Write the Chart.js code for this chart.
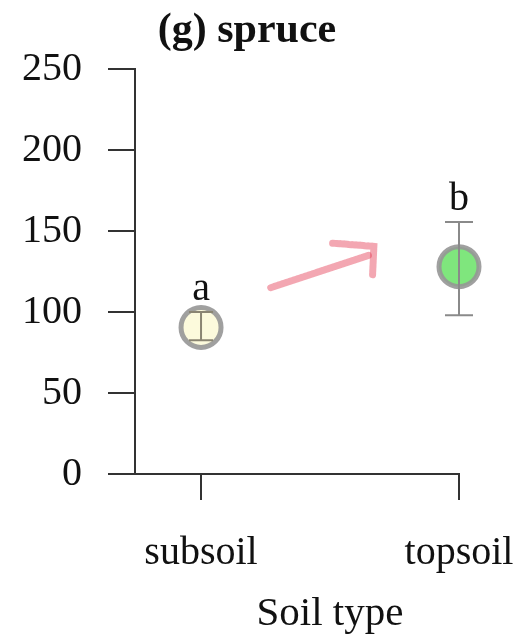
<!DOCTYPE html>
<html>
<head>
<meta charset="utf-8">
<script src="https://cdn.jsdelivr.net/npm/chart.js@4.4.0/dist/chart.umd.min.js"></script>
<style>
  html, body { margin: 0; padding: 0; background: #fff; }
  #wrap { width: 520px; height: 643px; position: relative; }
</style>
</head>
<body>
<div id="wrap"><canvas id="chart" width="520" height="643"></canvas></div>
<script>
// data
const categories = ['subsoil', 'topsoil'];
const means = [90.5, 128];
const errLow = [82.5, 98];
const errHigh = [100, 155.5];
const sigLetters = ['a', 'b'];
const yTicks = [0, 50, 100, 150, 200, 250];

// hand-drawn arrow annotation, in data units
const arrowShaftX = [1.27, 1.65];
const arrowShaftY = [115, 135];
const arrowHeadX = [1.51, 1.67, 1.665];
const arrowHeadY = [142.5, 140.5, 123];

const SERIF = "'Liberation Serif', 'Times New Roman', serif";
const AXIS = '#333';

const pointFill = ['#fcfadc', '#7fe67d'];

// error bars + significance letters
const errorBars = {
  id: 'errorBars',
  afterDatasetsDraw(chart) {
    const ctx = chart.ctx;
    const xs = chart.scales.x, ys = chart.scales.y;
    ctx.save();
    categories.forEach(function (c, i) {
      const px = xs.getPixelForValue(i + 1);
      const lo = ys.getPixelForValue(errLow[i]);
      const hi = ys.getPixelForValue(errHigh[i]);
      const cap = i === 0 ? 12 : 14;
      ctx.strokeStyle = i === 0 ? '#8a8572' : '#8a8a8a';
      ctx.lineWidth = 2;
      ctx.beginPath();
      ctx.moveTo(px, lo); ctx.lineTo(px, hi);
      ctx.moveTo(px - cap, lo); ctx.lineTo(px + cap, lo);
      ctx.moveTo(px - cap, hi); ctx.lineTo(px + cap, hi);
      ctx.stroke();

      ctx.fillStyle = '#111';
      ctx.font = '40px ' + SERIF;
      ctx.textAlign = 'center';
      ctx.textBaseline = 'alphabetic';
      ctx.fillText(sigLetters[i], px, hi - 12);
    });
    ctx.restore();
  }
};

// panel title and x axis title (the axis title sits off-centre in the original)
const titles = {
  id: 'titles',
  afterDraw(chart) {
    const ctx = chart.ctx;
    ctx.save();
    ctx.fillStyle = '#111';
    ctx.textAlign = 'center';
    ctx.textBaseline = 'alphabetic';
    ctx.font = 'bold 42px ' + SERIF;
    ctx.fillText('(g) spruce', 247, 42);
    ctx.font = '41px ' + SERIF;
    ctx.fillText('Soil type', 330, 625);
    ctx.restore();
  }
};

// sketchy red pen stroke
const arrowStyle = {
  type: 'line',
  borderColor: 'rgba(228, 60, 85, 0.45)',
  borderWidth: 7,
  borderDash: [3, 1],
  borderCapStyle: 'round',
  pointRadius: 0,
  fill: false,
  tension: 0,
  clip: false
};

new Chart(document.getElementById('chart'), {
  type: 'scatter',
  data: {
    datasets: [
      Object.assign({
        data: arrowShaftX.map(function (x, i) { return { x: x, y: arrowShaftY[i] }; })
      }, arrowStyle),
      Object.assign({
        data: arrowHeadX.map(function (x, i) { return { x: x, y: arrowHeadY[i] }; })
      }, arrowStyle),
      {
        data: means.map(function (m, i) { return { x: i + 1, y: m }; }),
        backgroundColor: pointFill,
        borderColor: 'rgba(150, 150, 150, 0.9)',
        borderWidth: 5,
        pointRadius: 20,
        clip: false
      }
    ]
  },
  options: {
    responsive: false,
    animation: false,
    events: [],
    devicePixelRatio: 1,
    layout: { padding: { top: 69, left: 0, right: 61, bottom: 0 } },
    plugins: {
      legend: { display: false },
      tooltip: { enabled: false }
    },
    scales: {
      x: {
        type: 'linear',
        min: 0.744,
        max: 2,
        afterBuildTicks: function (s) { s.ticks = categories.map(function (c, i) { return { value: i + 1 }; }); },
        afterFit: function (s) { s.height = 169; s.paddingLeft = 0; s.paddingRight = 0; },
        border: { color: AXIS, width: 2 },
        grid: { drawOnChartArea: false, tickLength: 26, color: AXIS, lineWidth: 2 },
        ticks: {
          color: '#111',
          font: { family: SERIF, size: 40 },
          padding: 29,
          maxRotation: 0,
          autoSkip: false,
          callback: function (v) { return categories[v - 1]; }
        }
      },
      y: {
        min: 0,
        max: 250,
        afterBuildTicks: function (s) { s.ticks = yTicks.map(function (v) { return { value: v }; }); },
        afterFit: function (s) { s.width = 135; },
        border: { color: AXIS, width: 2 },
        grid: { drawOnChartArea: false, tickLength: 27, color: AXIS, lineWidth: 2 },
        ticks: {
          color: '#111',
          font: { family: SERIF, size: 40 },
          padding: 26
        }
      }
    }
  },
  plugins: [errorBars, titles]
});
</script>
</body>
</html>
